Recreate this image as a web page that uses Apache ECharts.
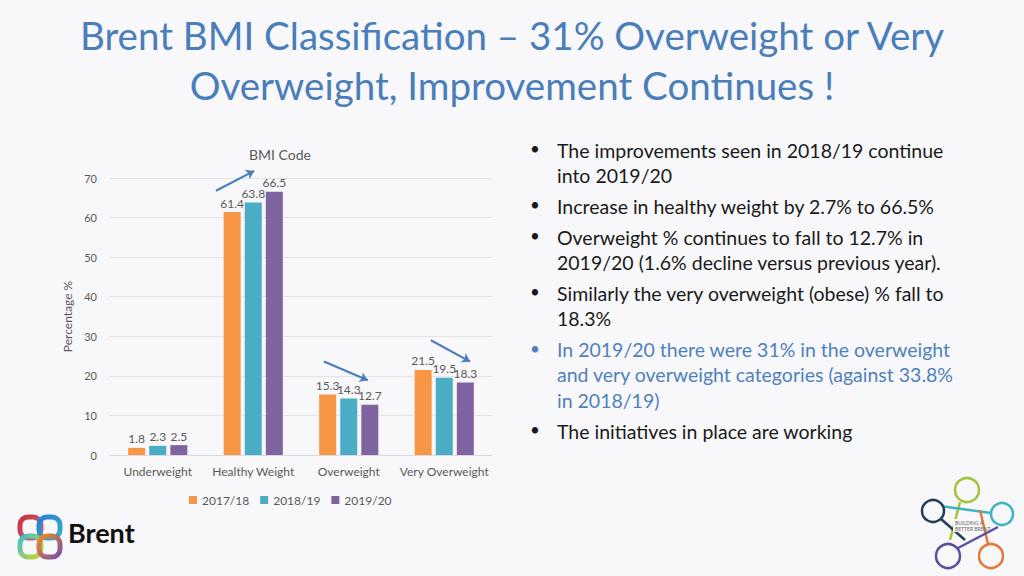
<!DOCTYPE html>
<html>
<head>
<meta charset="utf-8">
<script src="https://cdn.jsdelivr.net/npm/echarts@6/dist/echarts.min.js"></script>
<style>
html,body{margin:0;padding:0;background:#f8f8fa;}
#chart{width:1024px;height:576px;}
</style>
</head>
<body>
<div id="chart"></div>
<script>
// ---- data ----
var categories = ['Underweight', 'Healthy Weight', 'Overweight', 'Very Overweight'];
var seriesNames = ['2017/18', '2018/19', '2019/20'];
var values2017 = [1.8, 61.4, 15.3, 21.5];
var values2018 = [2.3, 63.8, 14.3, 19.5];
var values2019 = [2.5, 66.5, 12.7, 18.3];
var yTicks = [0, 10, 20, 30, 40, 50, 60, 70];
// trend arrows in data coordinates: [categoryPosition, percentage]
var trendArrows = [
  [[0.61, 66.8], [1.01, 71.8]],
  [[1.74, 23.6], [2.20, 18.9]],
  [[2.86, 29.0], [3.27, 23.6]]
];
var titleLines = ['Brent BMI Classification \u2013 31% Overweight or Very', 'Overweight, Improvement Continues !'];
var bullets = [
  {lines: ['The improvements seen in 2018/19 continue', 'into 2019/20'], blue: false},
  {lines: ['Increase in healthy weight by 2.7% to 66.5%'], blue: false},
  {lines: ['Overweight % continues to fall to 12.7% in', '2019/20 (1.6% decline versus previous year).'], blue: false},
  {lines: ['Similarly the very overweight (obese) % fall to', '18.3%'], blue: false},
  {lines: ['In 2019/20 there were 31% in the overweight', 'and very overweight categories (against 33.8%', 'in 2018/19)'], blue: true},
  {lines: ['The initiatives in place are working'], blue: false}
];

var FONT = 'Lato';
var colors = ['#f79646', '#4bacc6', '#8064a2'];
var chart = echarts.init(document.getElementById('chart'), null, {renderer: 'svg'});

var graphics = [];
// bullet text
var y = 152;
bullets.forEach(function (b) {
  var col = b.blue ? '#4f81bd' : '#1a1a1a';
  graphics.push({type: 'text', left: 530, top: y - 12, style: {text: '\u2022', font: '17px ' + FONT, fill: col}});
  b.lines.forEach(function (ln) {
    graphics.push({type: 'text', left: 557, top: y - 12, style: {text: ln, font: '19.5px ' + FONT, fill: col}});
    y += 25.2;
  });
  y += 5.8;
});
// Brent logo
var ringCols = [['#d0312d', '#b06ab3'], ['#2a7fd4', '#35b0c8'], ['#3fc1c9', '#c9d630'], ['#f08a24', '#7b4fa8']];
var ringPos = [[20, 517], [39, 517], [20, 536], [39, 536]];
ringPos.forEach(function (p, i) {
  graphics.push({type: 'rect', shape: {x: p[0], y: p[1], width: 21, height: 21, r: 8},
    style: {fill: 'none', stroke: new echarts.graphic.LinearGradient(0, 0, 1, 1, [{offset: 0, color: ringCols[i][0]}, {offset: 1, color: ringCols[i][1]}]), lineWidth: 5}});
});
graphics.push({type: 'text', left: 68, top: 519, style: {text: 'Brent', font: 'bold 27px ' + FONT, fill: '#111'}});
// Building a Better Brent logo
var nodes = [
  {c: [967, 490], r: 12, col: '#a3c43b', a: [960, 502], b: [950, 540]},
  {c: [1002, 514], r: 11, col: '#3bb3c3', a: [991, 513], b: [940, 506]},
  {c: [991, 556], r: 12, col: '#e07b39', a: [988, 544], b: [980, 510]},
  {c: [948, 556], r: 12, col: '#5b4fa0', a: [958, 548], b: [998, 527]},
  {c: [933, 511], r: 11, col: '#1f3f5a', a: [941, 519], b: [965, 540]}
];
nodes.forEach(function (n) {
  graphics.push({type: 'line', shape: {x1: n.a[0], y1: n.a[1], x2: n.b[0], y2: n.b[1]}, style: {stroke: n.col, lineWidth: 2.5}});
  graphics.push({type: 'circle', shape: {cx: n.c[0], cy: n.c[1], r: n.r}, style: {fill: '#f8f8fa', stroke: n.col, lineWidth: 2.5}});
});
graphics.push({type: 'rect', shape: {x: 953, y: 519, width: 28, height: 13}, style: {fill: '#f8f8fa'}});
graphics.push({type: 'text', left: 955, top: 520, style: {text: 'BUILDING A\nBETTER BRENT', font: '5px ' + FONT, fill: '#666', lineHeight: 6}});

function barSeries(name, data, i) {
  return {
    name: name, type: 'bar', data: data, barWidth: 17, barGap: '24%',
    itemStyle: {color: colors[i]},
    label: {show: true, position: 'top', distance: 3, color: '#595959', fontFamily: FONT, fontSize: 12}
  };
}

chart.setOption({
  backgroundColor: '#f8f8fa',
  textStyle: {fontFamily: FONT},
  title: [
    {text: titleLines.join('\n'), left: 'center', top: 5,
      textStyle: {fontFamily: FONT, fontSize: 38.5, fontWeight: 'normal', color: '#4a7ebb', lineHeight: 50}},
    {text: 'BMI Code', left: 275, top: 142, textAlign: 'center',
      textStyle: {fontFamily: FONT, fontSize: 14, fontWeight: 'normal', color: '#595959'}}
  ],
  legend: {
    data: seriesNames, left: 184, top: 489, icon: 'rect', itemWidth: 8, itemHeight: 8, itemGap: 11,
    textStyle: {color: '#595959', fontSize: 12, fontFamily: FONT}
  },
  grid: {left: 110, right: 532, top: 178, bottom: 121},
  xAxis: [
    {type: 'category', data: categories,
      axisLine: {lineStyle: {color: '#d9d9d9'}}, axisTick: {show: false},
      axisLabel: {color: '#595959', fontSize: 12, margin: 10, interval: 0}},
    {type: 'value', min: -0.5, max: 3.5, show: false}
  ],
  yAxis: {
    type: 'value', min: yTicks[0], max: yTicks[yTicks.length - 1], interval: 10,
    name: 'Percentage %', nameLocation: 'middle', nameGap: 37,
    nameTextStyle: {color: '#595959', fontSize: 12},
    axisLine: {show: false}, axisTick: {show: false},
    axisLabel: {color: '#595959', fontSize: 11, margin: 13},
    splitLine: {lineStyle: {color: '#e4e4e4'}}
  },
  series: [
    barSeries(seriesNames[0], values2017, 0),
    barSeries(seriesNames[1], values2018, 1),
    barSeries(seriesNames[2], values2019, 2),
    {
      type: 'lines', coordinateSystem: 'cartesian2d', xAxisIndex: 1, yAxisIndex: 0, clip: false,
      symbol: ['none', 'arrow'], symbolSize: 8, silent: true,
      lineStyle: {color: '#4a7ebb', width: 2.2, opacity: 1},
      data: trendArrows.map(function (a) { return {coords: a}; })
    }
  ],
  graphic: graphics
});
</script>
</body>
</html>
